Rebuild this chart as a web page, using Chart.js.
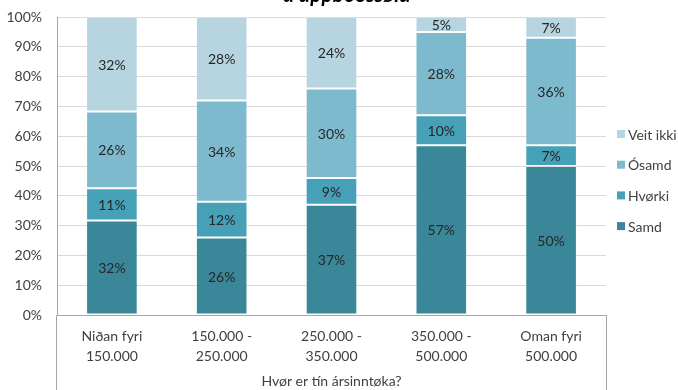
<!DOCTYPE html>
<html>
<head>
<meta charset="utf-8">
<script src="https://cdn.jsdelivr.net/npm/chart.js@4.4.1/dist/chart.umd.min.js"></script>
<style>
html, body { margin: 0; padding: 0; background: #fff; }
canvas { display: block; }
</style>
</head>
<body>
<canvas id="chart" width="678" height="390"></canvas>
<script>
const categories = [['Niðan fyri', '150.000'], ['150.000 -', '250.000'], ['250.000 -', '350.000'], ['350.000 -', '500.000'], ['Oman fyri', '500.000']]
const samd = [32, 26, 37, 57, 50]
const hvorki = [11, 12, 9, 10, 7]
const osamd = [26, 34, 30, 28, 36]
const veitIkki = [32, 28, 24, 5, 7]
const yTicks = [0, 10, 20, 30, 40, 50, 60, 70, 80, 90, 100]

const TEXT_COLOR = '#404040'
const FONT = 'Lato'

// 100% stacked: each column is scaled to its own total
const totals = categories.map((_, i) => samd[i] + hvorki[i] + osamd[i] + veitIkki[i])
const share = arr => arr.map((v, i) => v / totals[i] * 100)

function makeSet(label, values, color) {
    return {
        label: label,
        data: share(values),
        shown: values,
        backgroundColor: color,
        borderColor: 'rgba(255, 255, 255, 0.12)',
        borderWidth: 1,
        borderSkipped: false
    }
}

const titlePlugin = {
    id: 'cutTitle',
    afterDraw(chart) {
        const ctx = chart.ctx
        ctx.save()
        ctx.font = 'italic bold 21px ' + FONT
        ctx.fillStyle = '#000'
        ctx.textAlign = 'center'
        ctx.textBaseline = 'alphabetic'
        ctx.fillText('á uppboðssølu', chart.width / 2 + 8, 2)
        ctx.restore()
    }
}

const valueLabels = {
    id: 'valueLabels',
    afterDatasetsDraw(chart) {
        const ctx = chart.ctx
        ctx.save()
        ctx.font = '14px ' + FONT
        ctx.fillStyle = '#262626'
        ctx.textAlign = 'center'
        ctx.textBaseline = 'middle'
        chart.data.datasets.forEach((ds, d) => {
            chart.getDatasetMeta(d).data.forEach((bar, i) => {
                ctx.fillText(ds.shown[i] + '%', bar.x, (bar.y + bar.base) / 2 + 1)
            })
        })
        ctx.restore()
    }
}

// side lines that box in the category labels
const frameLines = {
    id: 'frameLines',
    afterDraw(chart) {
        const {ctx, chartArea} = chart
        ctx.save()
        ctx.strokeStyle = '#A6A6A6'
        ctx.lineWidth = 1
        ctx.beginPath()
        ctx.moveTo(Math.round(chartArea.left) - 0.5, chartArea.bottom)
        ctx.lineTo(Math.round(chartArea.left) - 0.5, chart.height)
        ctx.moveTo(Math.round(chartArea.right) + 0.5, chartArea.bottom)
        ctx.lineTo(Math.round(chartArea.right) + 0.5, chart.height)
        ctx.stroke()
        ctx.restore()
    }
}

const sideLegend = {
    id: 'sideLegend',
    afterDraw(chart) {
        const {ctx, chartArea} = chart
        const items = chart.data.datasets.slice().reverse()
        const x = chartArea.right + 11
        let y = chartArea.top + 117
        ctx.save()
        ctx.font = '14px ' + FONT
        ctx.textBaseline = 'middle'
        ctx.textAlign = 'left'
        items.forEach(ds => {
            ctx.fillStyle = ds.backgroundColor
            ctx.fillRect(x, y - 4, 8, 8)
            ctx.fillStyle = TEXT_COLOR
            ctx.fillText(ds.label, x + 11, y + 1)
            y += 30.7
        })
        ctx.restore()
    }
}

const chart = new Chart(document.getElementById('chart').getContext('2d'), {
    type: 'bar',
    data: {
        labels: categories,
        datasets: [
            makeSet('Samd', samd, '#3A8799'),
            makeSet('Hvørki', hvorki, '#46A0B8'),
            makeSet('Ósamd', osamd, '#7EBACE'),
            makeSet('Veit ikki', veitIkki, '#B7D5E0')
        ]
    },
    options: {
        responsive: false,
        animation: false,
        categoryPercentage: 1,
        barPercentage: 0.47,
        layout: {
            padding: { top: 17, left: 0, right: 72, bottom: 0 }
        },
        scales: {
            x: {
                stacked: true,
                grid: { display: false },
                border: { display: true, color: '#A6A6A6' },
                ticks: {
                    color: TEXT_COLOR,
                    font: { family: FONT, size: 14, lineHeight: 1.4 },
                    maxRotation: 0,
                    autoSkip: false,
                    padding: 4
                },
                title: {
                    display: true,
                    text: 'Hvør er tín ársinntøka?',
                    color: TEXT_COLOR,
                    font: { family: FONT, size: 14 },
                    padding: { top: 3, bottom: 0 }
                }
            },
            y: {
                stacked: true,
                min: 0,
                max: 100,
                afterBuildTicks: axis => {
                    axis.ticks = yTicks.map(v => ({ value: v }))
                },
                afterFit: axis => {
                    axis.width = 57
                    axis.paddingTop = 0
                    axis.paddingBottom = 0
                },
                grid: {
                    color: '#D9D9D9',
                    drawTicks: false
                },
                border: { color: '#A6A6A6' },
                ticks: {
                    color: TEXT_COLOR,
                    font: { family: FONT, size: 14 },
                    padding: 15,
                    callback: v => v + '%'
                }
            }
        },
        plugins: {
            legend: { display: false },
            tooltip: { enabled: false }
        }
    },
    plugins: [titlePlugin, valueLabels, frameLines, sideLegend]
});
</script>
</body>
</html>
